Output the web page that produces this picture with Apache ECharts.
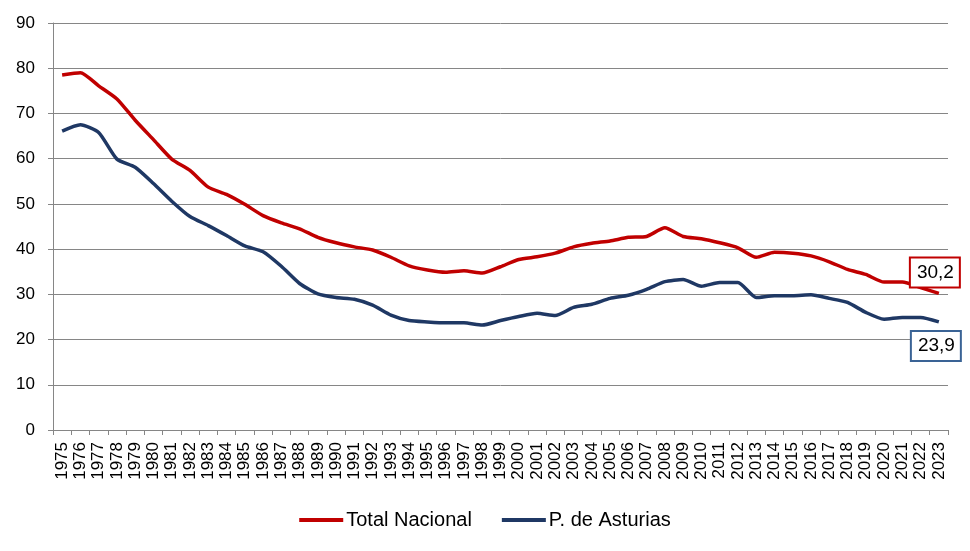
<!DOCTYPE html>
<html>
<head>
<meta charset="utf-8">
<script src="https://cdn.jsdelivr.net/npm/echarts@6/dist/echarts.min.js"></script>
<style>
html,body{margin:0;padding:0;background:#fff;}
#chart{width:970px;height:551px;}
</style>
</head>
<body>
<div id="chart"></div>
<script>
const years = [];
for (let y = 1975; y <= 2023; y++) years.push(String(y));

const totalNacional = [78.5,79.0,76.1,73.2,68.5,64.2,59.9,57.4,53.7,52.1,49.9,47.4,45.8,44.5,42.6,41.4,40.5,39.8,38.2,36.3,35.4,34.9,35.2,34.7,36.1,37.7,38.3,39.1,40.5,41.3,41.8,42.6,42.8,44.7,42.8,42.3,41.4,40.3,38.2,39.3,39.1,38.5,37.2,35.5,34.4,32.7,32.7,31.5,30.2];
const asturias = [66.1,67.5,65.8,59.9,58.1,54.5,50.6,47.2,45.2,43.0,40.7,39.4,36.2,32.4,30.1,29.3,28.9,27.6,25.4,24.2,23.9,23.7,23.7,23.2,24.2,25.1,25.8,25.3,27.1,27.8,29.1,29.8,31.1,32.8,33.3,31.8,32.6,32.6,29.3,29.7,29.7,29.9,29.1,28.2,26.0,24.5,24.9,24.9,23.9];
const yTicks = {min: 0, max: 90, interval: 10};

const RED = '#C00000';
const BLUE = '#1F3864';
const FONT = '"Liberation Sans", Arial, sans-serif';

function endLabel(borderColor, offset) {
  return {
    show: true,
    align: 'center',
    verticalAlign: 'middle',
    distance: 0,
    offset: offset,
    formatter: (p) => {
      const v = Array.isArray(p.value) ? p.value[p.value.length - 1] : p.value;
      return Number(v).toFixed(1).replace('.', ',');
    },
    color: '#000',
    fontFamily: FONT,
    fontSize: 19,
    backgroundColor: '#fff',
    borderColor: borderColor,
    borderWidth: 2,
    padding: [5, 5, 4, 6]
  };
}

const chart = echarts.init(document.getElementById('chart'), null, {renderer: 'canvas'});
chart.setOption({
  animation: false,
  backgroundColor: '#fff',
  grid: {left: 53, right: 22, top: 23, bottom: 121, containLabel: false},
  legend: {
    bottom: 16,
    left: 'center',
    itemWidth: 44,
    itemHeight: 4,
    itemGap: 30,
    icon: 'rect',
    textStyle: {fontFamily: FONT, fontSize: 20, color: '#000', padding: [0, 0, 0, -2]},
    data: ['Total Nacional', 'P. de Asturias']
  },
  xAxis: {
    type: 'category',
    data: years,
    boundaryGap: true,
    axisLine: {lineStyle: {color: '#868686', width: 1}},
    axisTick: {show: true, interval: 0, length: 5, lineStyle: {color: '#868686'}},
    axisLabel: {interval: 0, rotate: 90, margin: 12, color: '#000', fontFamily: FONT, fontSize: 17}
  },
  yAxis: {
    type: 'value',
    min: yTicks.min,
    max: yTicks.max,
    interval: yTicks.interval,
    axisLine: {show: true, lineStyle: {color: '#868686', width: 1}},
    axisTick: {show: true, length: 5, lineStyle: {color: '#868686'}},
    axisLabel: {margin: 18, color: '#000', fontFamily: FONT, fontSize: 17},
    splitLine: {lineStyle: {color: '#868686', width: 1}}
  },
  series: [
    {
      name: 'Total Nacional',
      type: 'line',
      data: totalNacional,
      smooth: 0.2,
      symbol: 'none',
      lineStyle: {color: RED, width: 3.5},
      itemStyle: {color: RED},
      endLabel: endLabel(RED, [-4, -21])
    },
    {
      name: 'P. de Asturias',
      type: 'line',
      data: asturias,
      smooth: 0.2,
      symbol: 'none',
      lineStyle: {color: BLUE, width: 3.5},
      itemStyle: {color: BLUE},
      endLabel: endLabel('#3A6395', [-3, 24])
    }
  ]
});
</script>
</body>
</html>
